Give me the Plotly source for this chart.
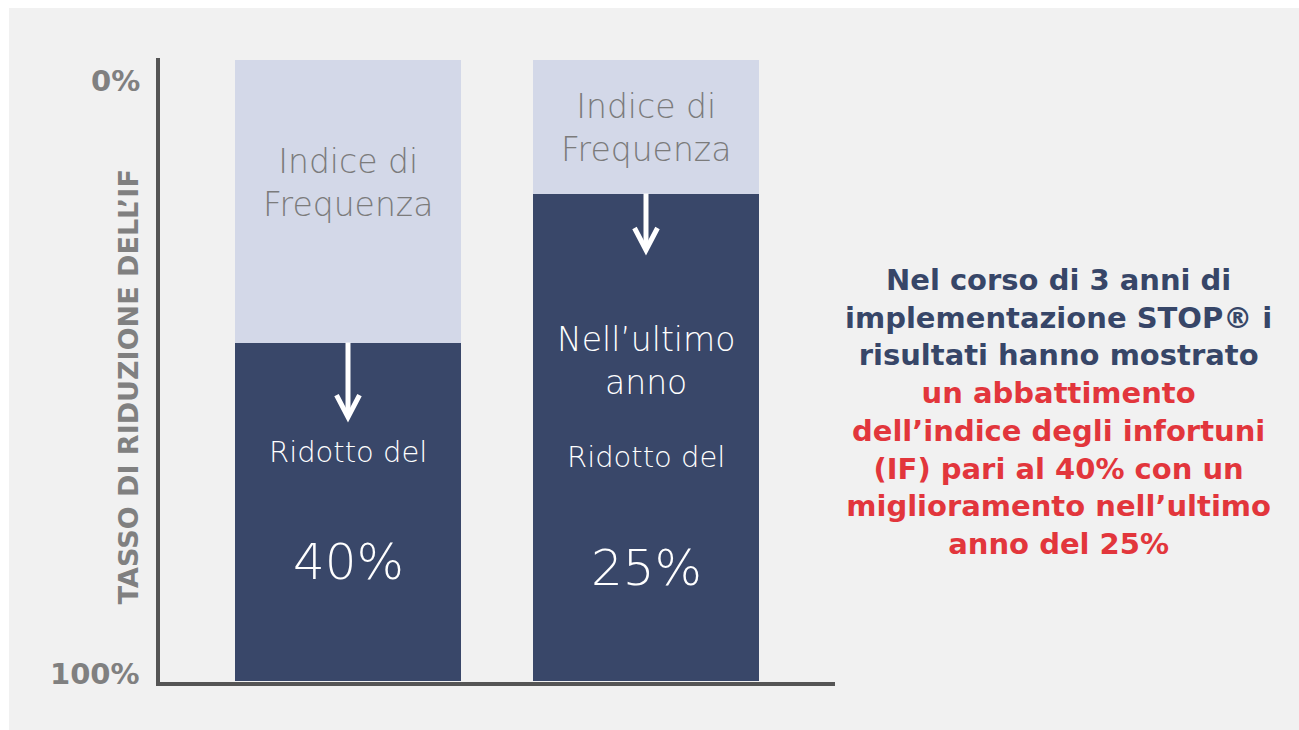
import plotly.graph_objects as go

# ---- data ----
bar_labels = ["Ultimi 3 anni", "Ultimo anno"]
light_share = [45.5, 21.5]      # "Indice di Frequenza" portion (axis units, 0 at top)
dark_share = [54.5, 78.5]       # reduced portion
reduction_text = ["40%", "25%"]
tick_vals = [0, 100]
tick_text = ["0%", "100%"]
y_title = "TASSO DI RIDUZIONE DELL’IF"

LIGHT = "#d3d8e8"
DARK = "#394769"
NAVY = "#374668"
RED = "#e2363c"
GRAY_TXT = "#7b7b7b"
AXIS_TXT = "#808080"

xs = list(range(len(bar_labels)))
BW = 226 / 298

fig = go.Figure()
fig.add_trace(go.Bar(x=xs, y=light_share, marker=dict(color=LIGHT, line=dict(width=0)),
                     width=BW, hoverinfo="skip", showlegend=False))
fig.add_trace(go.Bar(x=xs, y=dark_share, marker=dict(color=DARK, line=dict(width=0)),
                     width=BW, hoverinfo="skip", showlegend=False))

W, H = 1299, 730
L, R, T, B = 160, 835, 58, 682
C0, C1 = 348, 646
UX = C1 - C0
def px(v):
    return (v - L) / (R - L)
def py(v):
    return (B - v) / (B - T)

shapes = [dict(type="rect", xref="paper", yref="paper", x0=px(9), x1=px(1299), y0=py(730), y1=py(8),
               fillcolor="#f1f1f1", line=dict(width=0), layer="below")]

ann = []
# tick labels
for v, t, shift in zip(tick_vals, tick_text, [-21, 7]):
    ann.append(dict(x=px(142), xref="paper", y=v, yref="y", yshift=shift, text=t, showarrow=False,
                    xanchor="right", yanchor="middle",
                    font=dict(family="DejaVu Sans", size=29, color=AXIS_TXT, weight="bold")))
# y title
ann.append(dict(x=px(128), xref="paper", y=52.7, yref="y", text=y_title, textangle=-90, showarrow=False,
                xanchor="center", yanchor="middle",
                font=dict(family="DejaVu Sans", size=27, color=AXIS_TXT, weight="bold")))

light_font = dict(family="DejaVu Sans", size=33, color=GRAY_TXT, weight=300)
white_font = dict(family="DejaVu Sans", size=33, color="white", weight=300)
ann.append(dict(x=0, y=19.8, text="Indice di<br>Frequenza", showarrow=False, font=light_font))
ann.append(dict(x=1, y=10.95, text="Indice di<br>Frequenza", showarrow=False, font=light_font))
ann.append(dict(x=1, y=48.5, text="Nell’ultimo<br>anno", showarrow=False, font=white_font))
for i, (yr, yp) in enumerate([(63.1, 80.8), (63.9, 81.8)]):
    ann.append(dict(x=i, y=yr, text="Ridotto del", showarrow=False,
                    font=dict(family="DejaVu Sans", size=29, color="white", weight=300)))
    ann.append(dict(x=i, y=yp, text=reduction_text[i], showarrow=False,
                    font=dict(family="DejaVu Sans", size=50, color="white", weight=300)))

# arrows
hw = 11.5 / UX
hh = 22 / 6.21
for i, (y0, y1) in enumerate([(light_share[0], 57.5), (light_share[1], 30.6)]):
    shapes.append(dict(type="line", x0=i, x1=i, y0=y0, y1=y1 - 0.3, xref="x", yref="y",
                       line=dict(color="white", width=5)))
    shapes.append(dict(type="path", xref="x", yref="y",
                       path=f"M {i-hw},{y1-hh} L {i},{y1} L {i+hw},{y1-hh}",
                       line=dict(color="white", width=5)))

# right text
right = ("Nel corso di 3 anni di<br>implementazione STOP® i<br>risultati hanno mostrato<br>"
         f"<span style='color:{RED}'>un abbattimento<br>dell’indice degli infortuni<br>"
         "(IF) pari al 40% con un<br>miglioramento nell’ultimo<br>anno del 25%</span>")
ann.append(dict(x=px(1058), xref="paper", y=py(412), yref="paper", text=right, showarrow=False,
                xanchor="center", yanchor="middle", align="center",
                font=dict(family="DejaVu Sans", size=29, color=NAVY, weight="bold")))

fig.update_layout(
    width=W, height=H, barmode="stack", bargap=0,
    margin=dict(l=L, r=W - R, t=T, b=H - B, pad=0),
    paper_bgcolor="white", plot_bgcolor="rgba(0,0,0,0)",
    shapes=shapes, annotations=ann, showlegend=False,
    xaxis=dict(range=[-(C0 - L) / UX, 1 + (R - C1) / UX], showgrid=False, zeroline=False,
               showticklabels=False, ticks="", showline=True, linewidth=4, linecolor="#555555",
               fixedrange=True),
    yaxis=dict(range=[100 + 1 / 6.21, -2 / 6.21], showgrid=False, zeroline=False, showticklabels=False,
               ticks="", showline=True, linewidth=4, linecolor="#555555", fixedrange=True),
)
fig.write_html("out.html", config={"displayModeBar": False})
